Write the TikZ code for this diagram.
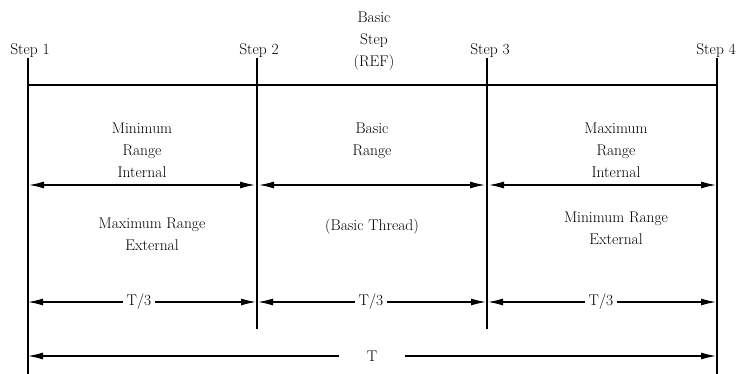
\documentclass[tikz,border=0pt]{standalone}
\usepackage{tikz}
\usetikzlibrary{arrows.meta}

\begin{document}
\begin{tikzpicture}[x=1pt,y=-1pt,
	text_node/.style={font=\fontsize{15.5}{22}\selectfont,align=center,inner sep=0pt},
	gap_node/.style={font=\fontsize{15.5}{22}\selectfont,inner ysep=0pt,inner xsep=4pt},
	one_tip/.style={line width=1.2pt,-{Latex[length=15pt,width=7pt]}},
	two_tips/.style={line width=1.2pt,{Latex[length=15pt,width=7pt]}-{Latex[length=15pt,width=7pt]}}]

		\useasboundingbox (0,0) rectangle (736,374);

		\node[text_node,anchor=base] (step1) at (30,55) {Step 1};
		\node[text_node,anchor=base] (step2) at (259,55) {Step 2};
		\node[text_node,anchor=base] (step3) at (490,55) {Step 3};
		\node[text_node,anchor=base] (step4) at (716,55) {Step 4};
		\node[text_node,anchor=north] (ref) at (374,12) {Basic\\Step\\(REF)};

		\coordinate (t1) at (28,58);
		\coordinate (b1) at (28,374);
		\coordinate (t2) at (257,58);
		\coordinate (b2) at (257,329);
		\coordinate (t3) at (487,58);
		\coordinate (b3) at (487,329);
		\coordinate (t4) at (717,58);
		\coordinate (b4) at (717,374);
		\coordinate (h1) at (28,85);
		\coordinate (h4) at (717,85);

		\draw[line width=1.3pt] (t1) -- (b1);
		\draw[line width=1.3pt] (t2) -- (b2);
		\draw[line width=1.3pt] (t3) -- (b3);
		\draw[line width=1.3pt] (t4) -- (b4);
		\draw[line width=1.3pt] (h1) -- (h4);

		% ranges
		\node[text_node,anchor=north] (min_int) at (142,123) {Minimum\\Range\\Internal};
		\node[text_node,anchor=north] (basic) at (372,123) {Basic\\Range};
		\node[text_node,anchor=north] (max_int) at (616,123) {Maximum\\Range\\Internal};

		\coordinate (m1) at (29,185);
		\coordinate (m2l) at (255,185);
		\coordinate (m2r) at (259,185);
		\coordinate (m3l) at (485,185);
		\coordinate (m3r) at (489,185);
		\coordinate (m4) at (716,185);

		\draw[two_tips] (m1) -- (m2l);
		\draw[two_tips] (m2r) -- (m3l);
		\draw[two_tips] (m3r) -- (m4);

		\node[text_node,anchor=north] (max_ext) at (152,217.5) {Maximum Range\\External};
		\node[text_node,anchor=base] (thread) at (372,230) {(Basic Thread)};
		\node[text_node,anchor=north] (min_ext) at (616,211.5) {Minimum Range\\External};

		% T/3 and T
		\node[gap_node] (third1) at (139,302) {T/3};
		\node[gap_node] (third2) at (371,302) {T/3};
		\node[gap_node] (third3) at (601,302) {T/3};
		\node[gap_node,inner xsep=28pt] (total) at (372,356) {T};

		\coordinate (d1) at (28,302);
		\coordinate (d2l) at (256,302);
		\coordinate (d2r) at (258,302);
		\coordinate (d3l) at (486,302);
		\coordinate (d3r) at (488,302);
		\coordinate (d4) at (716,302);
		\coordinate (e1) at (28,356);
		\coordinate (e4) at (716,356);

		\draw[one_tip] (third1) -- (d1);
		\draw[one_tip] (third1) -- (d2l);
		\draw[one_tip] (third2) -- (d2r);
		\draw[one_tip] (third2) -- (d3l);
		\draw[one_tip] (third3) -- (d3r);
		\draw[one_tip] (third3) -- (d4);
		\draw[one_tip] (total) -- (e1);
		\draw[one_tip] (total) -- (e4);
		\end{tikzpicture}
\end{document}
